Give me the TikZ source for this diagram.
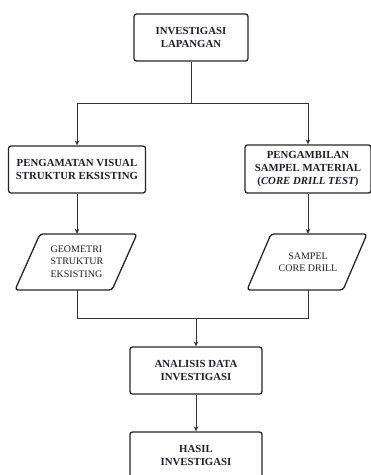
\documentclass[tikz,border=0pt]{standalone}
\usepackage{fontspec}
\setmainfont{Liberation Serif}
\usetikzlibrary{arrows.meta,calc}
\definecolor{ln}{HTML}{333333}
\definecolor{tx}{HTML}{1F1F2A}
\tikzset{
  procbox/.style={draw=black!85, line width=1.3pt, rounded corners=2.5pt, fill=white,
    align=center, inner sep=0pt, text=tx,
    font=\fontsize{10.8}{12.7}\selectfont\bfseries},
  iotext/.style={inner sep=0pt, text=tx, minimum height=56pt, minimum width=97pt,
    font=\fontsize{10}{12.5}\selectfont},
  iobox/.style={draw=black!85, line width=1.3pt, rounded corners=3pt, fill=white},
  conn/.style={draw=ln, line width=0.9pt},
  arr/.style={conn, -{Stealth[length=5pt,width=4.5pt]}}
}
\begin{document}
\begin{tikzpicture}[x=1pt,y=-1pt]
\useasboundingbox (0,0) rectangle (371,475);
% boxes
\node[procbox, minimum width=114pt, minimum height=47pt] (top) at (191,37.5) {INVESTIGASI\\LAPANGAN};
\node[procbox, minimum width=137pt, minimum height=47pt] (lbox) at (77,169.5) {PENGAMATAN VISUAL\\STRUKTUR EKSISTING};
\node[procbox, minimum width=126pt, minimum height=48pt] (rbox) at (308,169) {PENGAMBILAN\\SAMPEL MATERIAL\\(\textit{CORE DRILL TEST})};
% parallelograms
\path[iobox] (40,234) -- (137,234) -- (112,290) -- (15,290) -- cycle;
\node[iotext, align=left] (lio) at (77,262) {\begin{tabular}{@{}l@{}}GEOMETRI\\STRUKTUR\\EKSISTING\end{tabular}};
\path[iobox] (271,234) -- (367,234) -- (343,290) -- (247,290) -- cycle;
\node[iotext, align=center] (rio) at (308,262) {SAMPEL\\CORE DRILL};
\node[procbox, minimum width=132pt, minimum height=47pt] (ana) at (196,370.5) {ANALISIS DATA\\INVESTIGASI};
\node[procbox, minimum width=132pt, minimum height=47pt] (has) at (196,455.5) {HASIL\\INVESTIGASI};
% connectors
\coordinate (split) at (191,103.5);
\coordinate (merge) at (196,318);
\draw[conn] (top.south) -- (split);
\draw[arr] (split) -| (lbox.north);
\draw[arr] (split) -| (rbox.north);
\draw[arr] (lbox.south) -- (lio.north);
\draw[arr] (rbox.south) -- (rio.north);
\draw[conn] (lio.south) |- (merge);
\draw[conn] (rio.south) |- (merge);
\draw[arr] (merge) -- (ana.north);
\draw[arr] (ana.south) -- (has.north);
\end{tikzpicture}
\end{document}
